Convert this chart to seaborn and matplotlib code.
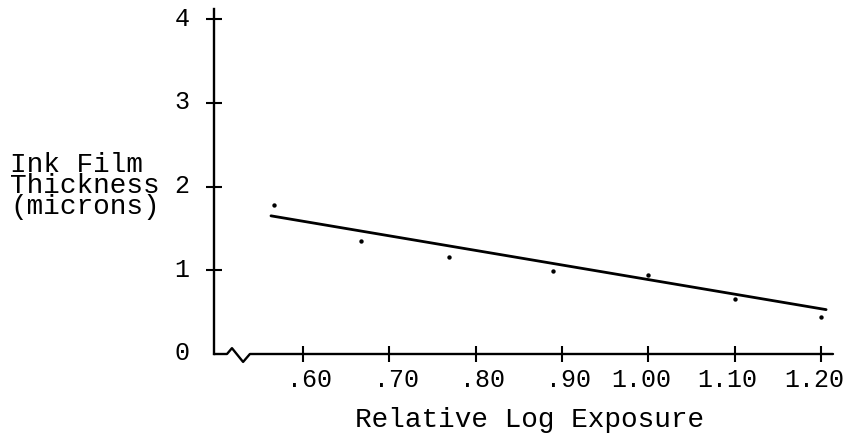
import matplotlib
matplotlib.use("Agg")
import matplotlib.pyplot as plt
import matplotlib.transforms as mtransforms
import seaborn as sns
import pandas as pd

# Data
log_exposure = [0.566, 0.667, 0.769, 0.89, 1.00, 1.10, 1.20]
thickness = [1.78, 1.35, 1.16, 0.99, 0.94, 0.66, 0.44]
fit_x = [0.563, 1.206]
fit_y = [1.65, 0.53]
x_ticks = [0.60, 0.70, 0.80, 0.90, 1.00, 1.10, 1.20]
x_tick_labels = [".60", ".70", ".80", ".90", "1.00", "1.10", "1.20"]
y_ticks = [0, 1, 2, 3, 4]
y_tick_labels = ["0", "1", "2", "3", "4"]

sns.set_theme(style="white")
plt.rcParams['font.family'] = ['Liberation Mono', 'DejaVu Sans Mono']

fig = plt.figure(figsize=(8.59, 4.39), dpi=100)
ax = fig.add_axes([214/859, 1-355/439, 619/859, 345/439])

pts = pd.DataFrame({"x": log_exposure, "y": thickness})
fit = pd.DataFrame({"x": fit_x, "y": fit_y})
sns.lineplot(data=fit, x="x", y="y", ax=ax, color="black", linewidth=2.0)
sns.scatterplot(data=pts, x="x", y="y", ax=ax, color="black", s=10, edgecolor="black", linewidth=0)

ax.set_xlim(0.497, 1.214)
ax.set_ylim(0, 4.12)

for s in ["top", "right", "bottom"]:
    ax.spines[s].set_visible(False)
ax.spines["left"].set_linewidth(1.7)
ax.spines["left"].set_color("black")

# axis-break zigzag along the bottom spine (axes fraction coords)
bx = [0.0, 0.021, 0.029, 0.047, 0.058, 1.0]
by = [0.0, 0.0, 0.017, -0.023, 0.0, 0.0]
ax.plot(bx, by, transform=ax.transAxes, color="black", linewidth=1.7, clip_on=False)

ax.set_xticks(x_ticks)
ax.set_xticklabels(x_tick_labels)
ax.set_yticks(y_ticks)
ax.set_yticklabels(y_tick_labels)
ax.tick_params(axis="both", which="both", direction="inout", length=11, width=1.5,
               color="black", labelsize=18, labelcolor="black")
ax.tick_params(axis="x", bottom=True, pad=4)
ax.tick_params(axis="y", left=True, pad=12)
ax.yaxis.get_major_ticks()[0].tick1line.set_visible(False)

# typewritten label placement: shift labels slightly as in the reference
for lab in ax.get_xticklabels():
    dx = 7 if lab.get_text().startswith(".") else -7
    lab.set_transform(lab.get_transform() +
                      mtransforms.ScaledTranslation(dx/100, 0, fig.dpi_scale_trans))
for lab in ax.get_yticklabels():
    lab.set_transform(lab.get_transform() +
                      mtransforms.ScaledTranslation(0, 4/100, fig.dpi_scale_trans))

ax.set_xlabel("Relative Log Exposure", fontsize=20, color="black")
ax.xaxis.set_label_coords((530-214)/619, (355-420)/345)
ax.xaxis.label.set_va("center")

ax.set_ylabel("Ink Film\nThickness\n(microns)", fontsize=20, color="black",
              rotation=0, ha="left", va="center", multialignment="left", linespacing=0.76)
ax.yaxis.set_label_coords((10-214)/619, (355-186)/345)

fig.savefig("out.png", dpi=100)
